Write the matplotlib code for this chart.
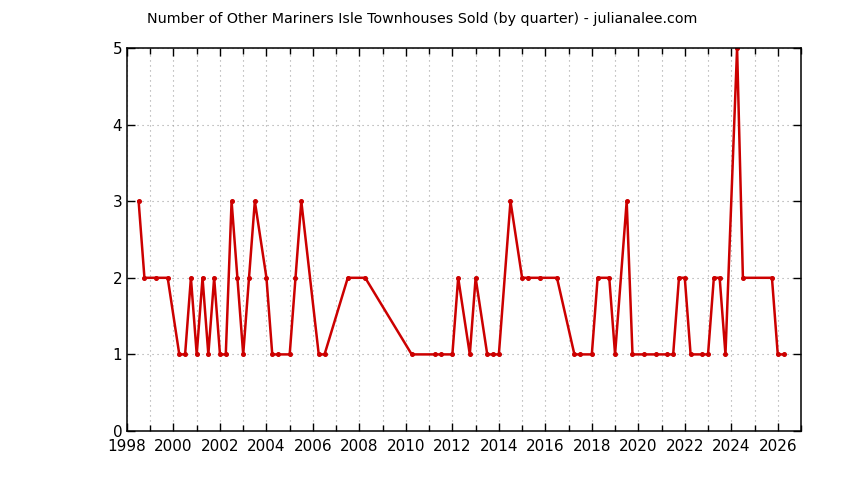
import numpy as np
import matplotlib
matplotlib.use("Agg")
import matplotlib.pyplot as plt
from matplotlib.ticker import MultipleLocator

# quarter end (decimal year) and number sold
quarter_end = [
    1998.5, 1998.75, 1999.25, 1999.75, 2000.25, 2000.5, 2000.75, 2001.0,
    2001.25, 2001.5, 2001.75, 2002.0, 2002.25, 2002.5, 2002.75, 2003.0,
    2003.25, 2003.5, 2004.0, 2004.25, 2004.5, 2005.0, 2005.25, 2005.5,
    2006.25, 2006.5, 2007.5, 2008.25, 2010.25, 2011.25, 2011.5, 2012.0,
    2012.25, 2012.75, 2013.0, 2013.5, 2013.75, 2014.0, 2014.5, 2015.0,
    2015.25, 2015.75, 2016.5, 2017.25, 2017.5, 2018.0, 2018.25, 2018.75,
    2019.0, 2019.5, 2019.75, 2020.25, 2020.75, 2021.25, 2021.5, 2021.75,
    2022.0, 2022.25, 2022.75, 2023.0, 2023.25, 2023.5, 2023.75, 2024.25,
    2024.5, 2025.75, 2026.0, 2026.25,
]
sold = [
    3, 2, 2, 2, 1, 1, 2, 1,
    2, 1, 2, 1, 1, 3, 2, 1,
    2, 3, 2, 1, 1, 1, 2, 3,
    1, 1, 2, 2, 1, 1, 1, 1,
    2, 1, 2, 1, 1, 1, 3, 2,
    2, 2, 2, 1, 1, 1, 2, 2,
    1, 3, 1, 1, 1, 1, 1, 2,
    2, 1, 1, 1, 2, 2, 1, 5,
    2, 2, 1, 1,
]

title = "Number of Other Mariners Isle Townhouses Sold (by quarter) - julianalee.com"

plt.rcParams['font.family'] = ['DejaVu Sans']

fig = plt.figure(figsize=(8.44, 4.8), dpi=100)
ax = fig.add_axes([127 / 844, 49 / 480, 674 / 844, 383 / 480])

ax.plot(quarter_end, sold, color='#cc0000', lw=1.8, marker='o', ms=2.6,
        mec='#cc0000', mfc='#cc0000')

ax.set_xlim(1998, 2027)
ax.set_ylim(0, 5)
ax.xaxis.set_major_locator(MultipleLocator(2))
ax.xaxis.set_minor_locator(MultipleLocator(1))
ax.yaxis.set_major_locator(MultipleLocator(1))

ax.grid(True, which='both', axis='x', color='#a0a0a0', ls=(0, (1, 3.5)), lw=0.8)
ax.grid(True, which='major', axis='y', color='#a0a0a0', ls=(0, (1, 3.5)), lw=0.8)
ax.set_axisbelow(True)

ax.tick_params(which='both', direction='in', top=True, right=True,
               labelsize=11, width=1)
ax.tick_params(which='major', length=6)
ax.tick_params(which='minor', length=4)
ax.tick_params(axis='x', pad=6)
for s in ax.spines.values():
    s.set_linewidth(1.1)

fig.text(422 / 844, 1 - 19 / 480, title, ha='center', va='center', fontsize=10.3)

fig.savefig("out.png", dpi=100)
